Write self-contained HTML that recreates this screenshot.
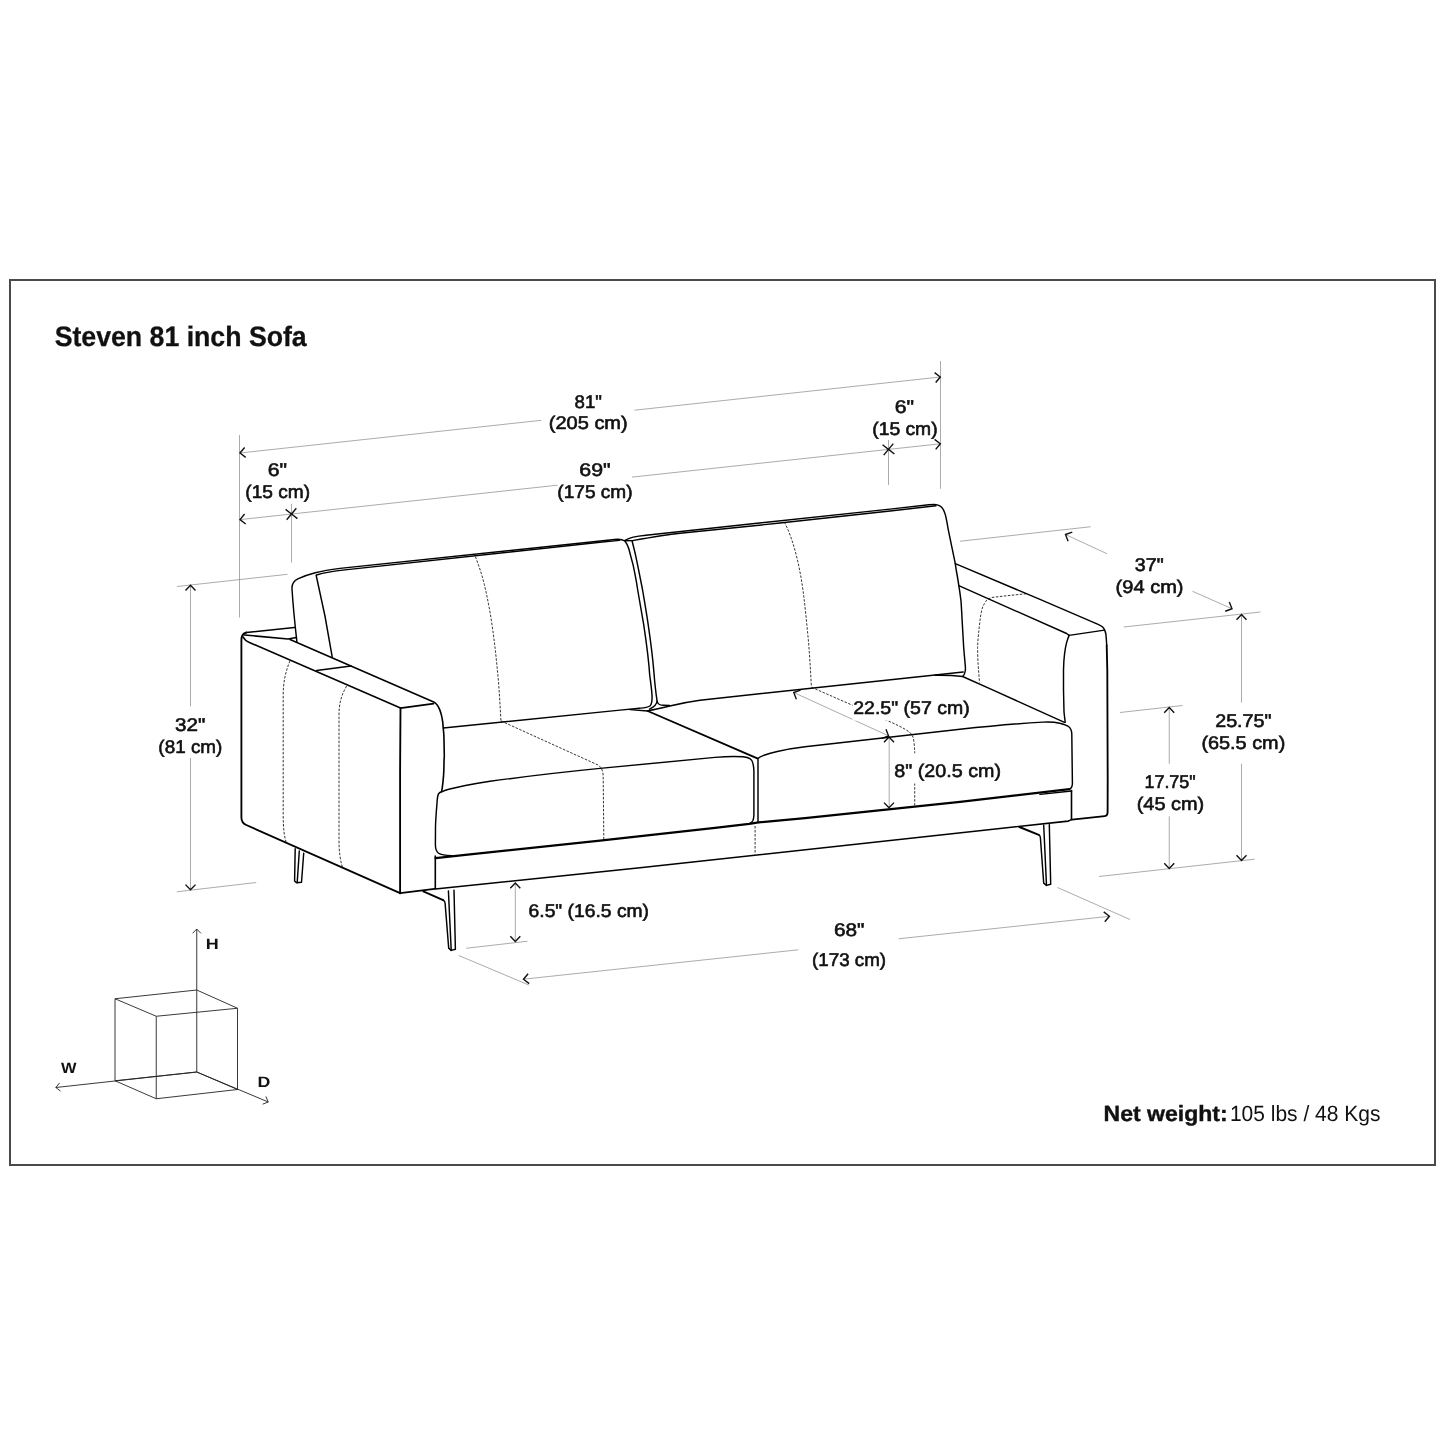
<!DOCTYPE html>
<html lang="en">
<head>
<meta charset="utf-8">
<title>Steven 81 inch Sofa</title>
<style>
html,body{margin:0;padding:0;background:#fff;}
body{width:1445px;height:1445px;overflow:hidden;}
svg{display:block;filter:grayscale(1);}
text{text-rendering:geometricPrecision;}
text{font-family:"Liberation Sans",sans-serif;fill:#111;}
.frame{fill:none;stroke:#4a4a4a;stroke-width:2;}
.h{fill:none;stroke:#000;stroke-width:1.85;stroke-linecap:round;stroke-linejoin:round;}
.m{fill:none;stroke:#000;stroke-width:1.6;stroke-linecap:round;stroke-linejoin:round;}
.l{fill:none;stroke:#000;stroke-width:1.45;stroke-linecap:round;stroke-linejoin:round;}
.mt{fill:none;stroke:#000;stroke-width:2.2;stroke-linecap:round;stroke-linejoin:round;}
.mg{fill:none;stroke:#000;stroke-width:1.9;stroke-linecap:round;}
.d{fill:none;stroke:#2a2a2a;stroke-width:0.95;stroke-dasharray:2.5 1.5;}
.t{fill:none;stroke:#969696;stroke-width:0.8;}
.a{fill:none;stroke:#111;stroke-width:1.4;stroke-linecap:butt;stroke-linejoin:miter;}
.c{fill:none;stroke:#222;stroke-width:0.9;}
.ca{fill:none;stroke:#222;stroke-width:0.9;}
.dt{font-size:18.3px;stroke:#111;stroke-width:0.6px;}
.title{font-size:28px;font-weight:700;stroke:#111;stroke-width:0.3px;}
.nw{font-size:22px;}
.nwb{font-size:22px;font-weight:700;stroke:#111;stroke-width:0.4px;}
.ax{font-size:15px;font-weight:700;}
</style>
</head>
<body>
<svg width="1445" height="1445" viewBox="0 0 1445 1445">
<rect x="0" y="0" width="1445" height="1445" fill="#fff"/>
<rect class="frame" x="10" y="280" width="1425" height="885"/>
<g id="dims">
<path class="t" d="M239.5,435 L239.5,617.5"/>
<path class="t" d="M291.5,503.75 L291.5,562.5"/>
<path class="t" d="M940.5,361 L940.5,488.75"/>
<path class="t" d="M888.5,440 L888.5,485"/>
<path class="t" d="M240,453 L541.25,420.3"/>
<path class="t" d="M634.5,410.2 L940.3,377"/>
<path class="t" d="M240,519.6 L557.5,485.2"/>
<path class="t" d="M632,477.1 L940.3,443.8"/>
<path class="t" d="M177,586.5 L287.5,574.3"/>
<path class="t" d="M177,891.75 L256.25,882.5"/>
<path class="t" d="M190.5,585.5 L190.5,706.4"/>
<path class="t" d="M190.5,758 L190.5,889.6"/>
<path class="t" d="M960,541.25 L1090.5,526.75"/>
<path class="t" d="M1065.5,534.5 L1107,553.75"/>
<path class="t" d="M1192.5,591.25 L1232,608.75"/>
<path class="t" d="M1123.75,627 L1260.5,612"/>
<path class="t" d="M1241.5,614.5 L1241.5,702.5"/>
<path class="t" d="M1241.5,763.75 L1241.5,860.5"/>
<path class="t" d="M1120,712.5 L1182.5,705.5"/>
<path class="t" d="M1169.25,707.5 L1169.25,763.75"/>
<path class="t" d="M1169.25,816.25 L1169.25,868.5"/>
<path class="t" d="M1099,876.5 L1254.7,859.2"/>
<path class="t" d="M1057.5,887.5 L1130,919.5"/>
<path class="t" d="M523.5,979.2 L798.3,949.8"/>
<path class="t" d="M898.7,938.75 L1109.4,916.3"/>
<path class="t" d="M458.75,955.5 L528.75,985"/>
<path class="t" d="M515.3,883 L515.3,941.5"/>
<path class="t" d="M466.25,948.25 L527.5,941.25"/>
<path class="t" d="M793.75,692.5 L887.8,735.5"/>
<path class="t" d="M889.2,737.5 L889.2,807.5"/>
</g>
<g id="arrows">
<path class="a" d="M244.61,447.47 L240.00,453.00 L245.69,457.41"/>
<path class="a" d="M935.69,382.53 L940.30,377.00 L934.61,372.59"/>
<path class="a" d="M244.61,514.07 L240.00,519.60 L245.69,524.01"/>
<path class="a" d="M935.69,449.33 L940.30,443.80 L934.61,439.38"/>
<path class="a" d="M296.31,508.24 L291.50,514.00 L297.42,518.60"/>
<path class="a" d="M286.69,519.76 L291.50,514.00 L285.58,509.40"/>
<path class="a" d="M893.31,443.64 L888.50,449.40 L894.42,454.00"/>
<path class="a" d="M883.69,455.16 L888.50,449.40 L882.58,444.80"/>
<path class="a" d="M195.50,590.48 L190.50,585.30 L185.50,590.48"/>
<path class="a" d="M185.50,884.62 L190.50,889.80 L195.50,884.62"/>
<path class="a" d="M1072.30,532.14 L1065.50,534.50 L1068.09,541.22"/>
<path class="a" d="M1225.24,611.22 L1232.00,608.75 L1229.29,602.08"/>
<path class="a" d="M1246.50,619.68 L1241.50,614.50 L1236.50,619.68"/>
<path class="a" d="M1236.50,855.32 L1241.50,860.50 L1246.50,855.32"/>
<path class="a" d="M1174.25,712.68 L1169.25,707.50 L1164.25,712.68"/>
<path class="a" d="M1164.25,863.32 L1169.25,868.50 L1174.25,863.32"/>
<path class="a" d="M528.12,973.68 L523.50,979.20 L529.18,983.62"/>
<path class="a" d="M1104.78,921.82 L1109.40,916.30 L1103.72,911.88"/>
<path class="a" d="M520.30,888.18 L515.30,883.00 L510.30,888.18"/>
<path class="a" d="M510.30,936.32 L515.30,941.50 L520.30,936.32"/>
<path class="a" d="M800.54,690.10 L793.75,692.50 L796.38,699.20"/>
<path class="a" d="M881.81,738.39 L888.60,736.00 L885.98,729.29"/>
<path class="a" d="M894.00,742.18 L889.00,737.00 L884.00,742.18"/>
<path class="a" d="M884.00,802.62 L889.00,807.80 L894.00,802.62"/>
</g>
<g id="cube">
<path class="c" d="M196.75,1072 L115,1080.75"/>
<path class="c" d="M196.75,1072 L237.5,1089.5"/>
<path class="c" d="M115,1080.75 L156.25,1098.75"/>
<path class="c" d="M237.5,1089.5 L156.25,1098.75"/>
<path class="c" d="M196.75,990 L115,998.75"/>
<path class="c" d="M196.75,990 L237.5,1008.25"/>
<path class="c" d="M115,998.75 L156.25,1016.25"/>
<path class="c" d="M237.5,1008.25 L156.25,1016.25"/>
<path class="c" d="M115,1080.75 L115,998.75"/>
<path class="c" d="M237.5,1089.5 L237.5,1008.25"/>
<path class="c" d="M156.25,1098.75 L156.25,1016.25"/>
<path class="c" d="M196.75,929 L196.75,1072"/>
<path class="c" d="M196.75,1072 L55.8,1087.5"/>
<path class="c" d="M196.75,1072 L268.25,1102"/>
<path class="ca" d="M200.92,933.32 L196.75,929.00 L192.58,933.32"/>
<path class="ca" d="M59.63,1082.89 L55.80,1087.50 L60.55,1091.17"/>
<path class="ca" d="M262.66,1104.17 L268.25,1102.00 L265.88,1096.49"/>
</g>
<g id="dashed">
<path class="d" d="M290,660.8 C285.5,672 283.2,682 283.2,695 L283.2,815 C283.2,828 284.2,836 286.1,842.3"/>
<path class="d" d="M346.6,686 C341.5,695 339,703 339,715 L339,840 C339,852 340.2,860 342.5,867.5"/>
<path class="d" d="M475.4,556.6 C479,566 482,575 484.3,584.3 C487,596 489.2,607 490.9,617.5 C492.7,629 494.2,640 495.4,650.7 C496.6,662 497.7,673 498.7,684 C499.5,696 500.3,708 500.9,720.5"/>
<path class="d" d="M501,721 L598,765 C601.5,767 603,771 603.2,776 L603.8,839.5"/>
<path class="d" d="M784.4,522.1 C788,529 791,537 793.2,544.3 C796.5,555 799,566 801,577.5 C802.8,588 804.2,599 805.4,610.7 C806.6,622 807.7,633 808.7,644 C809.8,658 810.6,672 811.4,687.2"/>
<path class="d" d="M811.6,687.3 L886,720 C895,724 904,728 909.7,732.3 C912.5,735 913.5,737.5 913.8,741 C914.4,745 914.7,749 914.7,752.3 L914.7,805.5"/>
<path class="d" d="M755.1,826 L755.1,854.4"/>
<path class="d" d="M1026.25,593.75 L1010,595.4 L993,597.3 C989,598 986.5,600 985.4,602 C983.5,605 982.5,607 982,609.2 C981,613 980.4,617 980.1,620 C978.8,630 977.8,640 977.6,647.7 C977.6,653 977.8,659 978.1,664.3 L979.5,682.6"/>
</g>
<g id="sofa">
<path class="l" d="M296.9,641.9 C295,625 293,605 292,589 C291.6,583.5 294,580.8 297.8,578.9 C303,576.5 309,574.4 315.3,572.8 C322,571 330,569.6 340,568.4 L617,539.2 C620.5,539 623,539.8 624.9,541 C626.5,543 627.8,545.5 628.8,548.8 L633.2,565.4 C635,574 636.5,581 637.7,590 C639.5,600 641.5,612 643.7,624.6 C646.8,645 648.7,660 649.7,675 C651,685 652.1,692 652.1,697.7 C652,702 651.5,704.5 649.9,706 C647,708 643,708 639.4,708.2 L620,710.1 L443.3,728"/>
<path class="l" d="M316.5,575 C325,572.5 335,571 345,569.9 L600,542.3 L619.4,540.4"/>
<path class="l" d="M316.2,575.5 C322,600 328,630 332.2,656.9"/>
<path class="l" d="M632.1,541 C634.5,550 636.3,558 637.7,565.4 L642.6,590 C644.8,603 646.7,614 648.2,624.6 C651.2,645 652.9,660 653.9,672 C654.8,684 656,694 657.1,701 C657.5,704 659,705.2 663,705.3 L669.8,705.4"/>
<path class="l" d="M657.1,701 C656.8,705 653,707.5 649.5,709.2"/>
<path class="l" d="M624.9,540.4 C627.5,539 630,537.8 633.2,537.1 C638,536 642,535.6 646,535.2 L890,509.1 L928.8,504.7 C931,504.5 932.8,504.4 934.3,504.4 C936.5,504.5 938.3,505 939.8,505.8 C941.3,506.6 942.4,507.9 943.2,509.4 C944.1,511 944.8,512.9 945.4,514.9 C946.4,519 947.3,524 948.1,528.8 L951.5,545.4 L955.3,563.6 L956.2,570 C957.2,575 958,580 958.8,585.4 C959.7,591 960.4,596 961,600.9 C961.4,607 961.8,613 962.1,620 L963.7,647.7 L965.4,667.1 C965.5,669 965.4,670.5 965.1,671.5 C964.8,673.5 964,675 963.2,675.9"/>
<path class="l" d="M625,540.8 L633.2,540.5 C650,537.6 665,535 680,533.3 L780,523 L890,511 L936,505.8"/>
<path class="l" d="M648.2,710.6 C656,709.5 664,707.5 669.8,706 C680,703.5 690,701.5 700,700.2 L963.2,672"/>
<path class="l" d="M935,675.2 C945,675 955,675.5 962.6,676.5"/>
<path class="l" d="M630,709.6 L647.7,711"/>
<path class="h" d="M400.1,893.2 L246.25,825 C243,823.5 241.4,821.5 241.4,817.5 L241.4,640 C241.4,636 243.5,633.2 246.5,632.5"/>
<path class="m" d="M246.5,632.5 L294.4,627.5"/>
<path class="h" d="M400.5,708.1 L400.1,770 L400.1,893.2"/>
<path class="m" d="M243.2,637 C244.5,640 247,641.5 249.4,642.4 L400.5,708.1"/>
<path class="m" d="M244.5,635 L288,639 L296.4,637.5"/>
<path class="m" d="M290,639.5 L433.7,701.9 C436,703 438,705.5 439.8,709.9 C441,713 441.6,715.5 442,717.7 C442.8,721 443,724.5 443.2,727.7 C443.7,732 444,736 444,739.8 L444.3,756.4 L444.05,760 C444,764 443.9,768 443.8,771.1 C443.7,774 443.5,777 443.2,779.4 C443,782 442.7,784.5 442.4,786.6 C442.2,788.5 441.9,790 441.6,791.6"/>
<path class="m" d="M400.5,708.1 L433.7,703.6"/>
<path class="l" d="M316.7,670.5 L351,666"/>
<path class="h" d="M400.1,893.2 L434.6,888.9"/>
<path class="l" d="M452,855.6 C446,855.6 441,855 438.3,853 C436.2,851.3 435.5,849 435.4,845 L435.5,826.4 C435.7,820 436,815 436.9,804.3 C437.1,801 437.3,798.5 437.7,796.5 C438,795 438.3,794.2 438.8,793.5 C439.5,792.7 440.5,792.2 441.6,791.8 C444,790.8 446,790 448.8,789.3 C454,788 459,786.8 465.4,785.5 C473,784 481,782.6 490,781.3 C525,776.5 562,772.2 600,768.4 L715,757.4 C722,756.8 728,756.5 733.7,756.5 C738,756.5 740.5,756.6 743,756.8 C746,757.2 748.5,757.8 749.9,758.7 C752,760 752.8,762 753,763.7 C753.6,766 753.9,768.5 753.9,771.1 L753.9,814.7 C753.8,817.5 753.5,819 753,820.3 C752.3,822 751,823 749.9,823.4"/>
<path class="m" d="M435.3,856 L435.3,889 L640,867.8 L1000,828.5 L1068.1,821.1 C1069.5,820.8 1070.5,820.3 1071.4,819.5"/>
<path class="l" d="M758,821.4 L758,758.4 C760,757 762,756 764.8,755 C769,753.5 773,752.5 777.3,751.5 C786,749.5 795,748 805,746.8 L960,729.3 C990,726 1015,723.6 1043,722.1 C1050,721.8 1056,722.3 1059.7,723.2 C1064,724.3 1067,725.5 1068.5,726.5 C1071,728.5 1071.8,731 1071.8,734.3 L1072.4,784 C1072.3,786 1071.7,787.5 1070.7,788.6"/>
<path class="m" d="M1071.5,790.5 L1071.5,819.6"/>
<path class="l" d="M1071.5,791 L1040,794.4"/>
<path class="l" d="M955.3,563.6 L1040,599.4 L1098.1,624.3 C1100.5,625.4 1102,626.5 1102.6,627.1 C1103.5,628 1104.2,629 1104.5,629.9 C1105.3,631.5 1105.7,633 1105.9,634.3 C1106.3,638 1106.6,642 1106.7,645.4"/>
<path class="h" d="M1106.7,645.4 L1107.3,670 C1107.8,700 1107.8,760 1107.6,812.5 C1107.5,814.8 1106.6,815.9 1104.8,816.1 L1072,819.6"/>
<path class="l" d="M958.8,585.7 L1066.6,633.5 L1069.1,635.4"/>
<path class="l" d="M1069.1,635.4 L1104.5,630.1"/>
<path class="l" d="M1069.1,635.4 C1068,638 1067.2,640.5 1066.6,642.6 C1065.6,646.5 1065,650 1064.6,653.7 C1063.9,659 1063.6,664.5 1063.5,670 L1063.5,690 L1064,712 L1065.2,722.3"/>
<path class="l" d="M962.6,676.5 L992,689.6 L1064.5,722.4"/>
<path class="l" d="M295.2,848.8 L294.6,880.9 L296.5,882.8 L301.5,882.3 L303.7,853.2"/>
<path class="l" d="M299.3,851 L297.2,882.6"/>
<path class="l" d="M443.2,900.2 C444.5,901 445,902 445.1,903.2 L448.7,948.1 L451.2,950.4 L455.4,949.3 L454,890.3"/>
<path class="l" d="M448.4,890.9 L451.2,950.4"/>
<path class="l" d="M1038.8,834.9 C1040,835.5 1040.3,836.5 1040.4,837.7 L1043.7,883.1 L1046.5,885.4 L1050.7,884.3 L1049.3,824.6"/>
<path class="l" d="M1043.7,825.3 L1046.5,885.4"/>
<path class="mg" d="M647.7,711 L757.3,758.4"/>
<path class="mg" d="M423.3,891.4 L443.2,900.2"/>
<path class="mg" d="M1019.4,827 L1038.8,834.9"/>
<path class="mt" d="M435.6,858.2 L470,854.3 L600,840.7 L715,827.8 L749.2,823.9 L758.6,822.4 L805,818.1 L960,801.8 L1069.5,789.2"/>
</g>
<g id="labels">
<rect x="852.5" y="691" width="118" height="29.6" fill="#fff"/>
<rect x="893.5" y="753.5" width="108" height="30" fill="#fff"/>
<text class="title" x="54.69" y="345.8" textLength="252.02" lengthAdjust="spacingAndGlyphs">Steven 81 inch Sofa</text>
<text class="nwb" x="1103.53" y="1120.6" textLength="124.10" lengthAdjust="spacingAndGlyphs">Net weight:</text>
<text class="nw" x="1229.89" y="1120.6" textLength="150.62" lengthAdjust="spacingAndGlyphs">105 lbs / 48 Kgs</text>
<text class="dt" x="574.61" y="407.5" textLength="27.32" lengthAdjust="spacingAndGlyphs">81&quot;</text>
<text class="dt" x="548.85" y="429.3" textLength="78.84" lengthAdjust="spacingAndGlyphs">(205 cm)</text>
<text class="dt" x="267.75" y="475.9" textLength="19.29" lengthAdjust="spacingAndGlyphs">6&quot;</text>
<text class="dt" x="245.34" y="498.0" textLength="64.87" lengthAdjust="spacingAndGlyphs">(15 cm)</text>
<text class="dt" x="579.30" y="475.9" textLength="31.37" lengthAdjust="spacingAndGlyphs">69&quot;</text>
<text class="dt" x="557.35" y="498.0" textLength="75.26" lengthAdjust="spacingAndGlyphs">(175 cm)</text>
<text class="dt" x="894.75" y="412.6" textLength="19.28" lengthAdjust="spacingAndGlyphs">6&quot;</text>
<text class="dt" x="872.22" y="435.2" textLength="65.42" lengthAdjust="spacingAndGlyphs">(15 cm)</text>
<text class="dt" x="175.14" y="731.2" textLength="30.24" lengthAdjust="spacingAndGlyphs">32&quot;</text>
<text class="dt" x="158.39" y="753.3" textLength="63.99" lengthAdjust="spacingAndGlyphs">(81 cm)</text>
<text class="dt" x="1134.88" y="571.3" textLength="28.74" lengthAdjust="spacingAndGlyphs">37&quot;</text>
<text class="dt" x="1115.63" y="593.4" textLength="67.87" lengthAdjust="spacingAndGlyphs">(94 cm)</text>
<text class="dt" x="1215.20" y="726.8" textLength="56.22" lengthAdjust="spacingAndGlyphs">25.75&quot;</text>
<text class="dt" x="1201.40" y="748.9" textLength="83.88" lengthAdjust="spacingAndGlyphs">(65.5 cm)</text>
<text class="dt" x="1144.47" y="787.6" textLength="51.15" lengthAdjust="spacingAndGlyphs">17.75&quot;</text>
<text class="dt" x="1136.73" y="809.7" textLength="67.54" lengthAdjust="spacingAndGlyphs">(45 cm)</text>
<text class="dt" x="833.92" y="935.8" textLength="30.49" lengthAdjust="spacingAndGlyphs">68&quot;</text>
<text class="dt" x="812.01" y="965.6" textLength="74.10" lengthAdjust="spacingAndGlyphs">(173 cm)</text>
<text class="dt" x="853.26" y="713.8" textLength="116.39" lengthAdjust="spacingAndGlyphs">22.5&quot; (57 cm)</text>
<text class="dt" x="894.35" y="776.9" textLength="106.62" lengthAdjust="spacingAndGlyphs">8&quot; (20.5 cm)</text>
<text class="dt" x="528.57" y="917.4" textLength="120.45" lengthAdjust="spacingAndGlyphs">6.5&quot; (16.5 cm)</text>
<text class="ax" x="205.80" y="949.0" textLength="12.97" lengthAdjust="spacingAndGlyphs">H</text>
<text class="ax" x="61.01" y="1073.3" textLength="15.50" lengthAdjust="spacingAndGlyphs">W</text>
<text class="ax" x="257.45" y="1086.6" textLength="12.85" lengthAdjust="spacingAndGlyphs">D</text>
</g>
</svg>
</body>
</html>
